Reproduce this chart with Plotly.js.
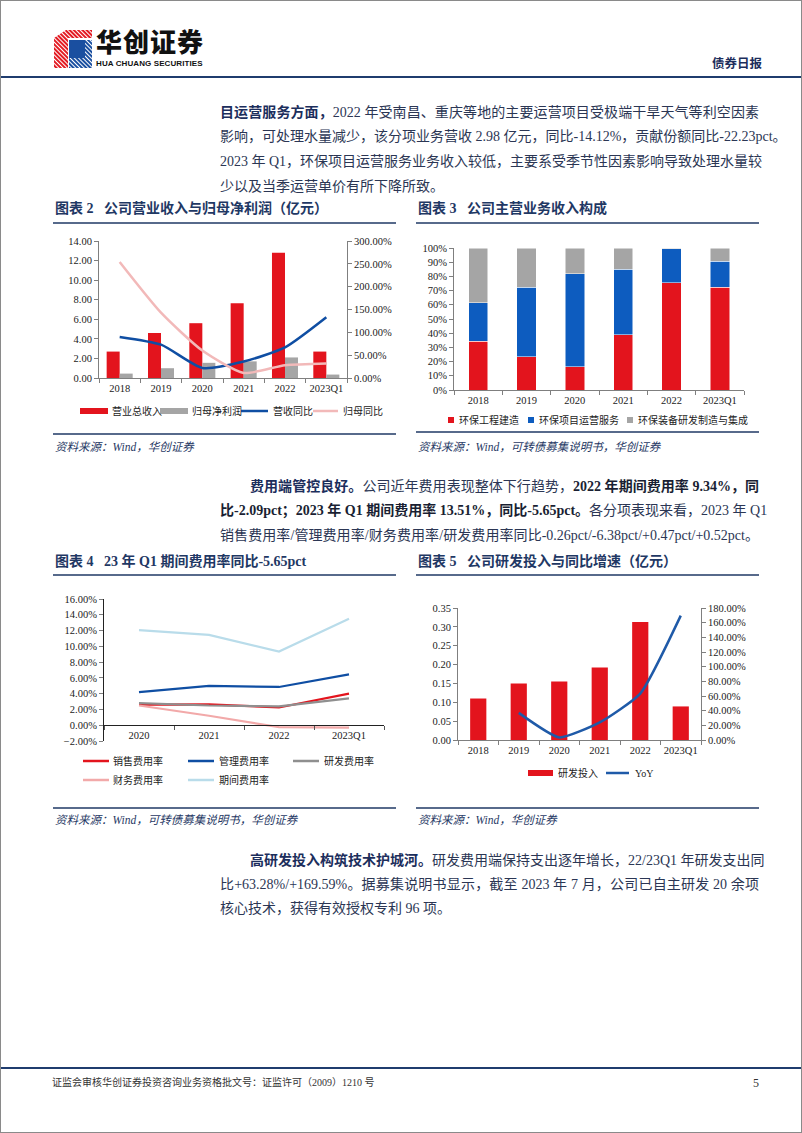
<!DOCTYPE html>
<html><head><meta charset="utf-8">
<script src="https://cdn.plot.ly/plotly-3.0.1.min.js"></script>
<style>
body{margin:0;background:#fff;}
#page{position:relative;width:800px;height:1131px;border:1px solid #8a8a8a;background:#fff;overflow:hidden;font-family:"Liberation Serif","Noto Sans CJK SC",serif;}
.ln{position:absolute;left:219px;width:539px;font-size:14px;line-height:24px;height:24px;white-space:nowrap;text-align:justify;text-align-last:justify;color:#2b3654;}
.ind{left:249px;width:509px;}
.nj{text-align:left;text-align-last:left;}
.b{font-weight:bold;color:#1c2e5c;}
.bk{font-weight:bold;color:#1a1f33;}
.chart{position:absolute;}
.hline{position:absolute;left:0;width:800px;height:2px;background:#1f3c6e;}
</style></head>
<body>
<div id="page">
  <svg style="position:absolute;left:53px;top:29px" width="38" height="38" viewBox="0 0 38 38">
    <defs>
      <pattern id="sr" width="3" height="3" patternUnits="userSpaceOnUse" patternTransform="rotate(45)">
        <rect width="3" height="2" fill="#e31b23"/><rect y="2" width="3" height="1" fill="#fff"/>
      </pattern>
      <pattern id="sb" width="3" height="3" patternUnits="userSpaceOnUse" patternTransform="rotate(45)">
        <rect width="3" height="2" fill="#1a4fa0"/><rect y="2" width="3" height="1" fill="#fff"/>
      </pattern>
    </defs>
    <polygon points="0,8 12,0 38,0 38,8 14,8 14,38 0,38" fill="url(#sr)"/>
    <rect x="15" y="10" width="23" height="28" fill="url(#sb)"/>
    <rect x="15" y="10" width="16" height="18" fill="#1a4fa0"/>
  </svg>
  <div style="position:absolute;left:95px;top:26px;font-family:'Noto Sans CJK SC';font-weight:900;font-size:26px;line-height:28px;height:28px;color:#111;letter-spacing:1px;">华创证券</div>
  <div style="position:absolute;left:95px;top:58px;font-family:'Liberation Sans';font-weight:bold;font-size:8px;line-height:9px;color:#111;letter-spacing:0.1px;">HUA CHUANG SECURITIES</div>
  <div style="position:absolute;left:711px;top:54px;font-family:'Noto Sans CJK SC';font-weight:bold;font-size:12.5px;line-height:16px;color:#1c2e5c;">债券日报</div>
  <div class="hline" style="top:75px;"></div>

  <div class="ln" style="top:100px"><span class="b">目运营服务方面，</span>2022 年受南昌、重庆等地的主要运营项目受极端干旱天气等利空因素</div>
  <div class="ln" style="top:124px">影响，可处理水量减少，该分项业务营收 2.98 亿元，同比-14.12%，贡献份额同比-22.23pct。</div>
  <div class="ln" style="top:149px">2023 年 Q1，环保项目运营服务业务收入较低，主要系受季节性因素影响导致处理水量较</div>
  <div class="ln nj" style="top:174px">少以及当季运营单价有所下降所致。</div>

  <div id="c2" class="chart" style="left:45px;top:195px;"></div>
  <div id="c3" class="chart" style="left:412px;top:195px;"></div>

  <div class="ln ind" style="top:474px"><span class="b">费用端管控良好。</span>公司近年费用表现整体下行趋势，<span class="bk">2022 年期间费用率 9.34%，同</span></div>
  <div class="ln" style="top:498px"><span class="bk">比-2.09pct；2023 年 Q1 期间费用率 13.51%，同比-5.65pct。</span>各分项表现来看，2023 年 Q1</div>
  <div class="ln" style="top:523px">销售费用率/管理费用率/财务费用率/研发费用率同比-0.26pct/-6.38pct/+0.47pct/+0.52pct。</div>

  <div id="c4" class="chart" style="left:45px;top:545px;"></div>
  <div id="c5" class="chart" style="left:412px;top:545px;"></div>

  <div class="ln ind" style="top:848px"><span class="b">高研发投入构筑技术护城河。</span>研发费用端保持支出逐年增长，22/23Q1 年研发支出同</div>
  <div class="ln" style="top:872px">比+63.28%/+169.59%。据募集说明书显示，截至 2023 年 7 月，公司已自主研发 20 余项</div>
  <div class="ln nj" style="top:896px">核心技术，获得有效授权专利 96 项。</div>

  <div class="hline" style="top:1066px;"></div>
  <div style="position:absolute;left:51px;top:1075px;font-size:10px;line-height:14px;color:#333;">证监会审核华创证券投资咨询业务资格批文号：证监许可（2009）1210 号</div>
  <div style="position:absolute;left:752px;top:1074px;font-size:12px;line-height:16px;color:#333;">5</div>
</div>

<script>
// ---------- DATA ----------
// Chart 2
const years6 = ['2018', '2019', '2020', '2021', '2022', '2023Q1'];
const revenue = [2.70, 4.60, 5.60, 7.65, 12.80, 2.70];          // 营业总收入 (亿元)
const netProfit = [0.45, 1.00, 1.55, 1.70, 2.10, 0.35];         // 归母净利润 (亿元)
const revenueYoY = [0.90, 0.73, 0.22, 0.36, 0.67, 1.33];        // 营收同比
const profitYoY = [2.54, 1.43, 0.60, 0.11, 0.28, 0.32];         // 归母同比
// Chart 3
const segEngineering = [0.345, 0.235, 0.165, 0.39, 0.755, 0.725]; // 环保工程建造
const segOperation = [0.27, 0.49, 0.655, 0.46, 0.24, 0.18];       // 环保项目运营服务
const segEquipment = [0.385, 0.275, 0.18, 0.15, 0.005, 0.095];    // 环保装备研发制造与集成
// Chart 4
const years4 = ['2020', '2021', '2022', '2023Q1'];
const salesRate = [0.026, 0.0265, 0.0225, 0.040];   // 销售费用率
const adminRate = [0.042, 0.050, 0.0485, 0.0645];   // 管理费用率
const rdRate = [0.028, 0.025, 0.024, 0.034];        // 研发费用率
const finRate = [0.025, 0.012, -0.0025, -0.003];    // 财务费用率
const periodRate = [0.1205, 0.1145, 0.0934, 0.1351];// 期间费用率
// Chart 5
const rdSpend = [0.110, 0.150, 0.155, 0.192, 0.313, 0.089]; // 研发投入 (亿元)
const rdYoY = [null, 0.37, 0.035, 0.24, 0.6328, 1.6959];    // YoY

// ---------- STYLE ----------
const FONT = 'Liberation Serif, Noto Sans CJK SC, serif';
const NAVY = '#1f3864';
const RED = '#e3141d';
const GRAY = '#a5a5a5';
const C2 = {rev: RED, np: GRAY, ry: '#0f4ea3', py: '#f2b9b9'};
const C3 = {eng: RED, op: '#0d5cbf', eq: GRAY};
const C4 = {sales: '#e3141d', admin: '#0f4ea3', rd: '#8f8f8f', fin: '#f2a9a9', period: '#b9dcea'};
const C5 = {bar: RED, line: '#1f5aa8'};

function P(W, H, m) {
  return {
    x: v => (v - m.l) / (W - m.l - m.r),
    y: v => 1 - (v - m.t) / (H - m.t - m.b)
  };
}
function frame(W, H, m, titleText, titleY, ulY, x0, x1, botY, srcText, srcY) {
  const p = P(W, H, m);
  return {
    title: {text: titleText, x: (x0 + 2) / W, xanchor: 'left', xref: 'container', y: 1 - titleY / H, yanchor: 'middle', yref: 'container',
            font: {family: FONT, size: 14, color: NAVY, weight: 'bold'}},
    shapes: [
      {type: 'line', xref: 'paper', yref: 'paper', x0: p.x(x0), x1: p.x(x1), y0: p.y(ulY), y1: p.y(ulY), line: {color: NAVY, width: 1.5}},
      {type: 'line', xref: 'paper', yref: 'paper', x0: p.x(x0), x1: p.x(x1), y0: p.y(botY), y1: p.y(botY), line: {color: NAVY, width: 1.5}}
    ],
    annotations: [
      {text: srcText, xref: 'paper', yref: 'paper', x: p.x(x0), y: p.y(srcY), xanchor: 'left', yanchor: 'middle', showarrow: false,
       font: {family: FONT, size: 11.5, color: NAVY, style: 'italic'}}
    ]
  };
}
// custom legend: items {kind:'rect'|'line', color, text, x0, x1, y, h, tx}
function addLegend(layout, p, items) {
  items.forEach(it => {
    if (it.kind === 'rect') {
      layout.shapes.push({type: 'rect', xref: 'paper', yref: 'paper', x0: p.x(it.x0), x1: p.x(it.x1),
        y0: p.y(it.y - it.h / 2), y1: p.y(it.y + it.h / 2), fillcolor: it.color, line: {width: 0}});
    } else {
      layout.shapes.push({type: 'line', xref: 'paper', yref: 'paper', x0: p.x(it.x0), x1: p.x(it.x1),
        y0: p.y(it.y), y1: p.y(it.y), line: {color: it.color, width: it.w || 2.5}});
    }
    layout.annotations.push({text: it.text, xref: 'paper', yref: 'paper', x: p.x(it.tx), y: p.y(it.y),
      xanchor: 'left', yanchor: 'middle', showarrow: false, font: {family: FONT, size: 10, color: '#222'}});
  });
}
const axBase = {showline: true, linecolor: '#7f7f7f', linewidth: 1, ticks: 'outside', ticklen: 4, tickcolor: '#7f7f7f',
                showgrid: false, zeroline: false, tickangle: 0, tickfont: {family: FONT, size: 10.5, color: '#222'}};
const cfg = {displayModeBar: false, staticPlot: true};

// ---------- Chart 2 ----------
(function () {
  const W = 355, H = 265, m = {l: 53, r: 54, t: 45, b: 83};
  const p = P(W, H, m);
  const f = frame(W, H, m, '图表 2   公司营业收入与归母净利润（亿元）', 12, 27, 7, 350, 238, '资料来源：Wind，华创证券', 251);
  const data = [
    {type: 'bar', name: '营业总收入', x: years6, y: revenue, marker: {color: C2.rev}},
    {type: 'bar', name: '归母净利润', x: years6, y: netProfit, marker: {color: C2.np}},
    {type: 'scatter', mode: 'lines', name: '营收同比', x: years6, y: revenueYoY, yaxis: 'y2', line: {color: C2.ry, width: 2.5, shape: 'spline', smoothing: 0.6}},
    {type: 'scatter', mode: 'lines', name: '归母同比', x: years6, y: profitYoY, yaxis: 'y2', line: {color: C2.py, width: 2.5, shape: 'spline', smoothing: 0.6}}
  ];
  const layout = Object.assign(f, {
    width: W, height: H, margin: m, paper_bgcolor: 'rgba(0,0,0,0)', plot_bgcolor: '#fff',
    barmode: 'group', bargap: 0.37, bargroupgap: 0,
    font: {family: FONT, size: 11, color: '#222'},
    xaxis: Object.assign({}, axBase, {type: 'category', tickson: 'boundaries'}),
    yaxis: Object.assign({}, axBase, {range: [0, 14], dtick: 2, tickformat: '.2f'}),
    yaxis2: Object.assign({}, axBase, {overlaying: 'y', side: 'right', range: [0, 3], dtick: 0.5, tickformat: '.2%'}),
    showlegend: false
  });
  addLegend(layout, p, [
    {kind: 'rect', color: C2.rev, text: '营业总收入', x0: 34, x1: 62, y: 215, h: 6, tx: 64},
    {kind: 'rect', color: C2.np, text: '归母净利润', x0: 114, x1: 142, y: 215, h: 6, tx: 144},
    {kind: 'line', color: C2.ry, text: '营收同比', x0: 195, x1: 222, y: 215, tx: 225},
    {kind: 'line', color: C2.py, text: '归母同比', x0: 267, x1: 292, y: 215, tx: 295}
  ]);
  Plotly.newPlot('c2', data, layout, cfg);
})();

// ---------- Chart 3 ----------
(function () {
  const W = 355, H = 265, m = {l: 41, r: 24, t: 52, b: 71};
  const p = P(W, H, m);
  const f = frame(W, H, m, '图表 3   公司主营业务收入构成', 12, 27, 3, 346, 236, '资料来源：Wind，可转债募集说明书，华创证券', 251);
  const data = [
    {type: 'bar', name: '环保工程建造', x: years6, y: segEngineering, marker: {color: C3.eng, line: {color: '#fff', width: 0.5}}},
    {type: 'bar', name: '环保项目运营服务', x: years6, y: segOperation, marker: {color: C3.op, line: {color: '#fff', width: 0.5}}},
    {type: 'bar', name: '环保装备研发制造与集成', x: years6, y: segEquipment, marker: {color: C3.eq, line: {color: '#fff', width: 0.5}}}
  ];
  const layout = Object.assign(f, {
    width: W, height: H, margin: m, paper_bgcolor: 'rgba(0,0,0,0)', plot_bgcolor: '#fff',
    barmode: 'stack', bargap: 0.6,
    font: {family: FONT, size: 11, color: '#222'},
    xaxis: Object.assign({}, axBase, {type: 'category', tickson: 'boundaries'}),
    yaxis: Object.assign({}, axBase, {range: [0, 1], dtick: 0.1, tickformat: '.0%'}),
    showlegend: false
  });
  addLegend(layout, p, [
    {kind: 'rect', color: C3.eng, text: '环保工程建造', x0: 35, x1: 41, y: 224, h: 6, tx: 44},
    {kind: 'rect', color: C3.op, text: '环保项目运营服务', x0: 115, x1: 121, y: 224, h: 6, tx: 124},
    {kind: 'rect', color: C3.eq, text: '环保装备研发制造与集成', x0: 214, x1: 220, y: 224, h: 6, tx: 223}
  ]);
  Plotly.newPlot('c3', data, layout, cfg);
})();

// ---------- Chart 4 ----------
(function () {
  const W = 355, H = 285, m = {l: 58, r: 17, t: 53, b: 90};
  const p = P(W, H, m);
  const f = frame(W, H, m, '图表 4   23 年 Q1 期间费用率同比-5.65pct', 15, 29, 7, 350, 262, '资料来源：Wind，可转债募集说明书，华创证券', 274);
  const ln = (name, y, color) => ({type: 'scatter', mode: 'lines', name: name, x: years4, y: y, line: {color: color, width: 2.2}});
  const data = [
    ln('销售费用率', salesRate, C4.sales),
    ln('管理费用率', adminRate, C4.admin),
    ln('研发费用率', rdRate, C4.rd),
    ln('财务费用率', finRate, C4.fin),
    ln('期间费用率', periodRate, C4.period)
  ];
  const layout = Object.assign(f, {
    width: W, height: H, margin: m, paper_bgcolor: 'rgba(0,0,0,0)', plot_bgcolor: '#fff',
    font: {family: FONT, size: 11, color: '#222'},
    xaxis: Object.assign({}, axBase, {type: 'category', range: [-0.5, years4.length - 0.5], tickson: 'boundaries', anchor: 'free', position: 2 / 18, linecolor: '#222', tickcolor: '#555'}),
    yaxis: Object.assign({}, axBase, {range: [-0.02, 0.16], dtick: 0.02, tickformat: '.2%', linecolor: '#222'}),
    showlegend: false
  });
  addLegend(layout, p, [
    {kind: 'line', color: C4.sales, text: '销售费用率', x0: 37, x1: 63, y: 215, tx: 65},
    {kind: 'line', color: C4.admin, text: '管理费用率', x0: 142, x1: 168, y: 215, tx: 171},
    {kind: 'line', color: C4.rd, text: '研发费用率', x0: 247, x1: 273, y: 215, tx: 276},
    {kind: 'line', color: C4.fin, text: '财务费用率', x0: 37, x1: 63, y: 234, tx: 65},
    {kind: 'line', color: C4.period, text: '期间费用率', x0: 142, x1: 168, y: 234, tx: 171}
  ]);
  Plotly.newPlot('c4', data, layout, cfg);
})();

// ---------- Chart 5 ----------
(function () {
  const W = 355, H = 285, m = {l: 45, r: 67, t: 62, b: 91};
  const p = P(W, H, m);
  const f = frame(W, H, m, '图表 5   公司研发投入与同比增速（亿元）', 15, 29, 3, 346, 262, '资料来源：Wind，华创证券', 274);
  const data = [
    {type: 'bar', name: '研发投入', x: years6, y: rdSpend, marker: {color: C5.bar}},
    {type: 'scatter', mode: 'lines', name: 'YoY', x: years6, y: rdYoY, yaxis: 'y2', line: {color: C5.line, width: 2.5, shape: 'spline', smoothing: 0.5}}
  ];
  const layout = Object.assign(f, {
    width: W, height: H, margin: m, paper_bgcolor: 'rgba(0,0,0,0)', plot_bgcolor: '#fff',
    bargap: 0.6,
    font: {family: FONT, size: 11, color: '#222'},
    xaxis: Object.assign({}, axBase, {type: 'category', tickson: 'boundaries'}),
    yaxis: Object.assign({}, axBase, {range: [0, 0.35], dtick: 0.05, tickformat: '.2f'}),
    yaxis2: Object.assign({}, axBase, {overlaying: 'y', side: 'right', range: [0, 1.8], dtick: 0.2, tickformat: '.2%'}),
    showlegend: false
  });
  addLegend(layout, p, [
    {kind: 'rect', color: C5.bar, text: '研发投入', x0: 115, x1: 140, y: 227, h: 6, tx: 143},
    {kind: 'line', color: C5.line, text: 'YoY', x0: 193, x1: 216, y: 227, tx: 220}
  ]);
  Plotly.newPlot('c5', data, layout, cfg);
})();
</script>
</body></html>
